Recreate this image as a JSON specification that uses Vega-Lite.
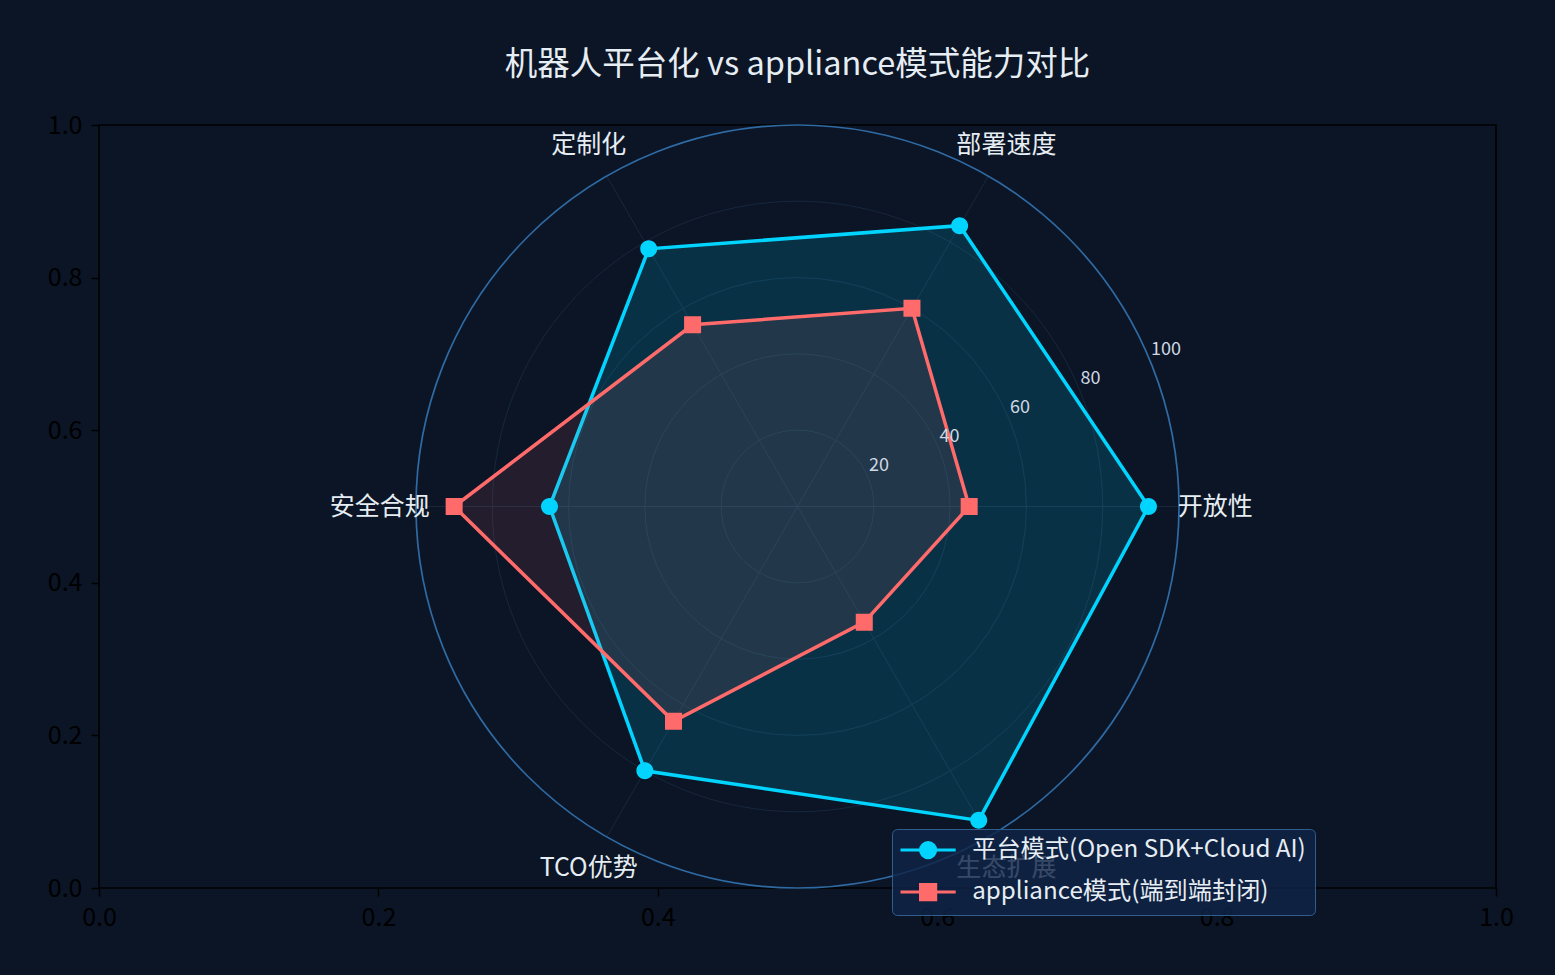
{
  "$schema": "https://vega.github.io/schema/vega-lite/v6.json",
  "description": "Radar chart comparing platform mode and appliance mode capabilities.",
  "width": 1397,
  "height": 763,
  "autosize": {"type": "none"},
  "padding": {"left": 99, "top": 125, "right": 59, "bottom": 87},
  "background": "#0b1526",
  "title": {
    "text": "机器人平台化 vs appliance模式能力对比",
    "anchor": "middle",
    "color": "#e6edf3",
    "fontSize": 32.5,
    "fontWeight": "normal",
    "font": "Noto Sans CJK SC",
    "offset": 32
  },
  "datasets": {
    "scores": [
      {"series": "平台模式(Open SDK+Cloud AI)", "dim": "开放性", "score": 92},
      {"series": "平台模式(Open SDK+Cloud AI)", "dim": "部署速度", "score": 85},
      {"series": "平台模式(Open SDK+Cloud AI)", "dim": "定制化", "score": 78},
      {"series": "平台模式(Open SDK+Cloud AI)", "dim": "安全合规", "score": 65},
      {"series": "平台模式(Open SDK+Cloud AI)", "dim": "TCO优势", "score": 80},
      {"series": "平台模式(Open SDK+Cloud AI)", "dim": "生态扩展", "score": 95},
      {"series": "appliance模式(端到端封闭)", "dim": "开放性", "score": 45},
      {"series": "appliance模式(端到端封闭)", "dim": "部署速度", "score": 60},
      {"series": "appliance模式(端到端封闭)", "dim": "定制化", "score": 55},
      {"series": "appliance模式(端到端封闭)", "dim": "安全合规", "score": 90},
      {"series": "appliance模式(端到端封闭)", "dim": "TCO优势", "score": 65},
      {"series": "appliance模式(端到端封闭)", "dim": "生态扩展", "score": 35}
    ],
    "dims": [
      {"dim": "开放性"},
      {"dim": "部署速度"},
      {"dim": "定制化"},
      {"dim": "安全合规"},
      {"dim": "TCO优势"},
      {"dim": "生态扩展"}
    ],
    "rings": [{"r": 20}, {"r": 40}, {"r": 60}, {"r": 80}, {"r": 100}]
  },
  "layer": [
    {
      "data": {"name": "dims"},
      "transform": [
        {"window": [{"op": "row_number", "as": "k"}]},
        {"calculate": "(datum.k - 1) * PI / 3", "as": "theta"},
        {"calculate": "0.5", "as": "c"},
        {"calculate": "0.5 + cos(datum.theta) * 0.27309", "as": "ex"},
        {"calculate": "0.5 + sin(datum.theta) * 0.5", "as": "ey"}
      ],
      "mark": {"type": "rule", "color": "#17273d", "strokeWidth": 1},
      "encoding": {
        "x": {
          "field": "c",
          "type": "quantitative",
          "scale": {"domain": [0, 1], "nice": false, "zero": false},
          "axis": {
            "values": [0, 0.2, 0.4, 0.6, 0.8, 1.0],
            "format": ".1f",
            "title": null,
            "grid": false,
            "domain": false,
            "labelFlush": false,
            "labelOverlap": false,
            "tickColor": "#000000",
            "tickSize": 8,
            "tickWidth": 1.4,
            "labelColor": "#000000",
            "labelFontSize": 25,
            "labelPadding": 9,
            "labelFont": "Noto Sans CJK SC"
          }
        },
        "y": {
          "field": "c",
          "type": "quantitative",
          "scale": {"domain": [0, 1], "nice": false, "zero": false},
          "axis": {
            "values": [0, 0.2, 0.4, 0.6, 0.8, 1.0],
            "format": ".1f",
            "title": null,
            "grid": false,
            "domain": false,
            "labelFlush": false,
            "labelOverlap": false,
            "tickColor": "#000000",
            "tickSize": 8,
            "tickWidth": 1.4,
            "labelColor": "#000000",
            "labelFontSize": 25,
            "labelPadding": 9,
            "labelFont": "Noto Sans CJK SC"
          }
        },
        "x2": {"field": "ex"},
        "y2": {"field": "ey"}
      }
    },
    {
      "data": {"name": "rings"},
      "transform": [{"calculate": "0.5", "as": "c"}],
      "mark": {"type": "point", "shape": "circle", "filled": false, "opacity": 1},
      "encoding": {
        "x": {"field": "c", "type": "quantitative"},
        "y": {"field": "c", "type": "quantitative"},
        "size": {
          "field": "r",
          "type": "quantitative",
          "scale": {"type": "pow", "exponent": 2, "domain": [0, 100], "range": [0, 582169], "zero": true},
          "legend": null
        },
        "stroke": {
          "condition": {"test": "datum.r === 100", "value": "#2f6aa3"},
          "value": "#17273d"
        },
        "strokeWidth": {
          "condition": {"test": "datum.r === 100", "value": 1.7},
          "value": 1
        }
      }
    },
    {
      "data": {"name": "scores"},
      "transform": [
        {"window": [{"op": "row_number", "as": "k"}], "groupby": ["series"]},
        {"calculate": "(datum.k - 1) * PI / 3", "as": "theta"},
        {"calculate": "0.5 + datum.score / 100 * cos(datum.theta) * 0.27309", "as": "px"},
        {"calculate": "0.5 + datum.score / 100 * sin(datum.theta) * 0.5", "as": "py"}
      ],
      "layer": [
        {
          "mark": {"type": "line", "interpolate": "linear-closed", "strokeWidth": 3.5},
          "encoding": {
            "x": {"field": "px", "type": "quantitative"},
            "y": {"field": "py", "type": "quantitative"},
            "order": {"field": "k", "type": "quantitative"},
            "color": {
              "field": "series",
              "type": "nominal",
              "sort": null,
              "scale": {
                "domain": ["平台模式(Open SDK+Cloud AI)", "appliance模式(端到端封闭)"],
                "range": ["#00d4ff", "#ff6b6b"]
              },
              "legend": {
                "title": null,
                "orient": "none",
                "legendX": 793,
                "legendY": 704,
                "padding": 9,
                "fillColor": "rgba(16,36,72,0.82)",
                "strokeColor": "#2f5d8c",
                "cornerRadius": 5,
                "labelFontSize": 24.2,
                "labelColor": "#e6edf3",
                "labelFont": "Noto Sans CJK SC",
                "labelLimit": 0,
                "symbolSize": 256,
                "symbolStrokeWidth": 3,
                "symbolOffset": 15,
                "labelOffset": 32,
                "rowPadding": 14,
                "encode": {
                  "symbols": {
                    "fill": {"signal": "datum.value === '平台模式(Open SDK+Cloud AI)' ? '#00d4ff' : '#ff6b6b'"},
                    "stroke": {"signal": "datum.value === '平台模式(Open SDK+Cloud AI)' ? '#00d4ff' : '#ff6b6b'"},
                    "strokeWidth": {"value": 3},
                    "size": {"value": 256},
                    "opacity": {"value": 1}
                  }
                }
              }
            },
            "fill": {
              "field": "series",
              "type": "nominal",
              "scale": {
                "domain": ["平台模式(Open SDK+Cloud AI)", "appliance模式(端到端封闭)"],
                "range": ["#00d4ff", "#ff6b6b"]
              },
              "legend": null
            },
            "fillOpacity": {
              "condition": {"test": "datum.series === '平台模式(Open SDK+Cloud AI)'", "value": 0.15},
              "value": 0.1
            }
          }
        },
        {
          "mark": {"type": "point", "filled": true, "opacity": 1, "size": 320},
          "encoding": {
            "x": {"field": "px", "type": "quantitative"},
            "y": {"field": "py", "type": "quantitative"},
            "fill": {"field": "series", "type": "nominal", "legend": null},
            "shape": {
              "field": "series",
              "type": "nominal",
              "scale": {
                "domain": ["平台模式(Open SDK+Cloud AI)", "appliance模式(端到端封闭)"],
                "range": [
                  "M-3.45,0H3.45M0.95,0A0.95,0.95 0 1,1 -0.95,0A0.95,0.95 0 1,1 0.95,0Z",
                  "M-3.45,0H3.45M-0.95,-0.95H0.95V0.95H-0.95Z"
                ]
              },
              "legend": null
            }
          }
        }
      ]
    },
    {
      "data": {"name": "dims"},
      "transform": [
        {"window": [{"op": "row_number", "as": "k"}]},
        {"calculate": "(datum.k - 1) * PI / 3", "as": "theta"},
        {"calculate": "0.5 + 1.095 * cos(datum.theta) * 0.27309", "as": "lx"},
        {"calculate": "0.5 + 1.095 * sin(datum.theta) * 0.5", "as": "ly"}
      ],
      "mark": {"type": "text", "align": "center", "baseline": "middle", "fontSize": 25, "color": "#e6edf3", "font": "Noto Sans CJK SC"},
      "encoding": {
        "x": {"field": "lx", "type": "quantitative"},
        "y": {"field": "ly", "type": "quantitative"},
        "text": {"field": "dim", "type": "nominal"}
      }
    },
    {
      "data": {"name": "rings"},
      "transform": [
        {"calculate": "0.5 + datum.r / 100 * cos(PI / 8) * 0.27309", "as": "tx"},
        {"calculate": "0.5 + datum.r / 100 * sin(PI / 8) * 0.5", "as": "ty"}
      ],
      "mark": {"type": "text", "align": "left", "baseline": "middle", "dx": 1, "dy": -11, "fontSize": 18, "color": "#cfd8e3", "font": "Noto Sans CJK SC"},
      "encoding": {
        "x": {"field": "tx", "type": "quantitative"},
        "y": {"field": "ty", "type": "quantitative"},
        "text": {"field": "r", "type": "nominal"}
      }
    }
  ],
  "config": {
    "font": "Noto Sans CJK SC",
    "view": {"stroke": "#000000", "strokeWidth": 1.6}
  }
}
